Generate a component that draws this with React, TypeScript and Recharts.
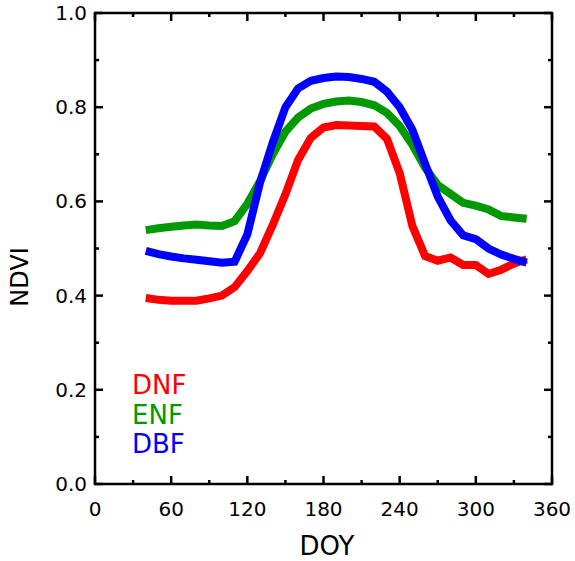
import { Customized, Line, LineChart, ReferenceArea, ReferenceLine, XAxis, YAxis } from "recharts";

const doy = [
  40, 50, 60, 70, 80, 90, 100, 110, 120, 130, 140, 150, 160, 170, 180, 190, 200, 210, 220, 230, 240, 250,
  260, 270, 280, 290, 300, 310, 320, 330, 340,
];

const dnf = [
  0.395, 0.391, 0.389, 0.389, 0.389, 0.394, 0.4, 0.418, 0.452, 0.49, 0.55, 0.615, 0.688, 0.735, 0.757,
  0.762, 0.761, 0.76, 0.759, 0.733, 0.66, 0.548, 0.484, 0.474, 0.481, 0.465, 0.465, 0.446, 0.455, 0.468,
  0.477,
];

const enf = [
  0.539, 0.543, 0.546, 0.549, 0.551, 0.549, 0.548, 0.558, 0.595, 0.643, 0.7, 0.748, 0.778, 0.797, 0.807,
  0.812, 0.814, 0.811, 0.804, 0.788, 0.76, 0.72, 0.672, 0.635, 0.616, 0.597, 0.591, 0.583, 0.569, 0.566,
  0.563,
];

const dbf = [
  0.495, 0.488, 0.483, 0.479, 0.476, 0.473, 0.47, 0.472, 0.53, 0.64, 0.725, 0.8, 0.84, 0.856, 0.862,
  0.865, 0.864, 0.86, 0.854, 0.833, 0.8, 0.752, 0.68, 0.61, 0.56, 0.528, 0.52, 0.5, 0.487, 0.478, 0.47,
];

const xTicks = [0, 30, 60, 90, 120, 150, 180, 210, 240, 270, 300, 330, 360];
const yTicks = [0, 0.1, 0.2, 0.3, 0.4, 0.5, 0.6, 0.7, 0.8, 0.9, 1.0];

const legend = [
  { name: "DNF", color: "#ff0000" },
  { name: "ENF", color: "#009900" },
  { name: "DBF", color: "#0000ff" },
];

const data = doy.map((d, i) => ({ doy: d, dnf: dnf[i], enf: enf[i], dbf: dbf[i] }));

const FONT = "DejaVu Sans, sans-serif";
const X_MAX = 360;
const Y_MAX = 1;
// inward tick lengths in data units (~8px major, ~4px minor)
const X_TICK = { major: 0.017, minor: 0.0085 };
const Y_TICK = { major: 6.3, minor: 3.2 };

const isMajorX = (v: number) => v % 60 === 0;
const isMajorY = (v: number) => Math.round(v * 10) % 2 === 0;

function BottomLabel({ x, y, payload }: any) {
  if (!isMajorX(payload.value)) return <g />;
  return (
    <text x={x} y={y + 32} textAnchor="middle" fontSize={20} fontFamily={FONT} fill="#000">
      {payload.value}
    </text>
  );
}

function LeftLabel({ x, y, payload }: any) {
  if (!isMajorY(payload.value)) return <g />;
  return (
    <text
      x={x - 8}
      y={y}
      textAnchor="end"
      dominantBaseline="central"
      fontSize={20}
      fontFamily={FONT}
      fill="#000"
    >
      {Number(payload.value).toFixed(1)}
    </text>
  );
}

function Titles() {
  return (
    <g fontFamily={FONT}>
      <text x={327} y={555} textAnchor="middle" fontSize={26} fill="#000">
        DOY
      </text>
      <text
        x={20}
        y={277}
        textAnchor="middle"
        dominantBaseline="central"
        fontSize={24}
        fill="#000"
        transform="rotate(-90 20 277)"
      >
        NDVI
      </text>
      {legend.map((l, i) => (
        <text key={l.name} x={132} y={394 + i * 29.5} fontSize={26} fill={l.color}>
          {l.name}
        </text>
      ))}
    </g>
  );
}

const tickLine = { stroke: "#000", strokeWidth: 2.5, ifOverflow: "visible" as const };

export default function App() {
  return (
    <div style={{ position: "absolute", left: 0, top: 0, background: "#fff" }}>
      <LineChart width={575} height={561} data={data} margin={{ top: 13, right: 23, bottom: 0, left: 0 }}>
        <XAxis
          dataKey="doy"
          type="number"
          domain={[0, X_MAX]}
          ticks={xTicks}
          interval={0}
          allowDataOverflow
          height={77}
          tickSize={0}
          tickMargin={0}
          tickLine={false}
          axisLine={false}
          tick={BottomLabel}
        />
        <YAxis
          type="number"
          domain={[0, Y_MAX]}
          ticks={yTicks}
          interval={0}
          allowDataOverflow
          width={95}
          tickSize={0}
          tickMargin={0}
          tickLine={false}
          axisLine={false}
          tick={LeftLabel}
        />
        <ReferenceArea
          x1={0}
          x2={X_MAX}
          y1={0}
          y2={Y_MAX}
          fill="none"
          fillOpacity={0}
          stroke="#000"
          strokeWidth={2.5}
          strokeOpacity={1}
          ifOverflow="visible"
        />
        {xTicks.map((t) => {
          const len = isMajorX(t) ? X_TICK.major : X_TICK.minor;
          return [
            <ReferenceLine key={`b${t}`} segment={[{ x: t, y: 0 }, { x: t, y: len }]} {...tickLine} />,
            <ReferenceLine key={`t${t}`} segment={[{ x: t, y: Y_MAX }, { x: t, y: Y_MAX - len }]} {...tickLine} />,
          ];
        })}
        {yTicks.map((t) => {
          const len = isMajorY(t) ? Y_TICK.major : Y_TICK.minor;
          return [
            <ReferenceLine key={`l${t}`} segment={[{ x: 0, y: t }, { x: len, y: t }]} {...tickLine} />,
            <ReferenceLine key={`r${t}`} segment={[{ x: X_MAX, y: t }, { x: X_MAX - len, y: t }]} {...tickLine} />,
          ];
        })}
        <Line dataKey="dnf" stroke="#ff0000" strokeWidth={8} dot={false} isAnimationActive={false} />
        <Line dataKey="enf" stroke="#009900" strokeWidth={8} dot={false} isAnimationActive={false} />
        <Line dataKey="dbf" stroke="#0000ff" strokeWidth={8} dot={false} isAnimationActive={false} />
        <Customized component={Titles} />
      </LineChart>
    </div>
  );
}
